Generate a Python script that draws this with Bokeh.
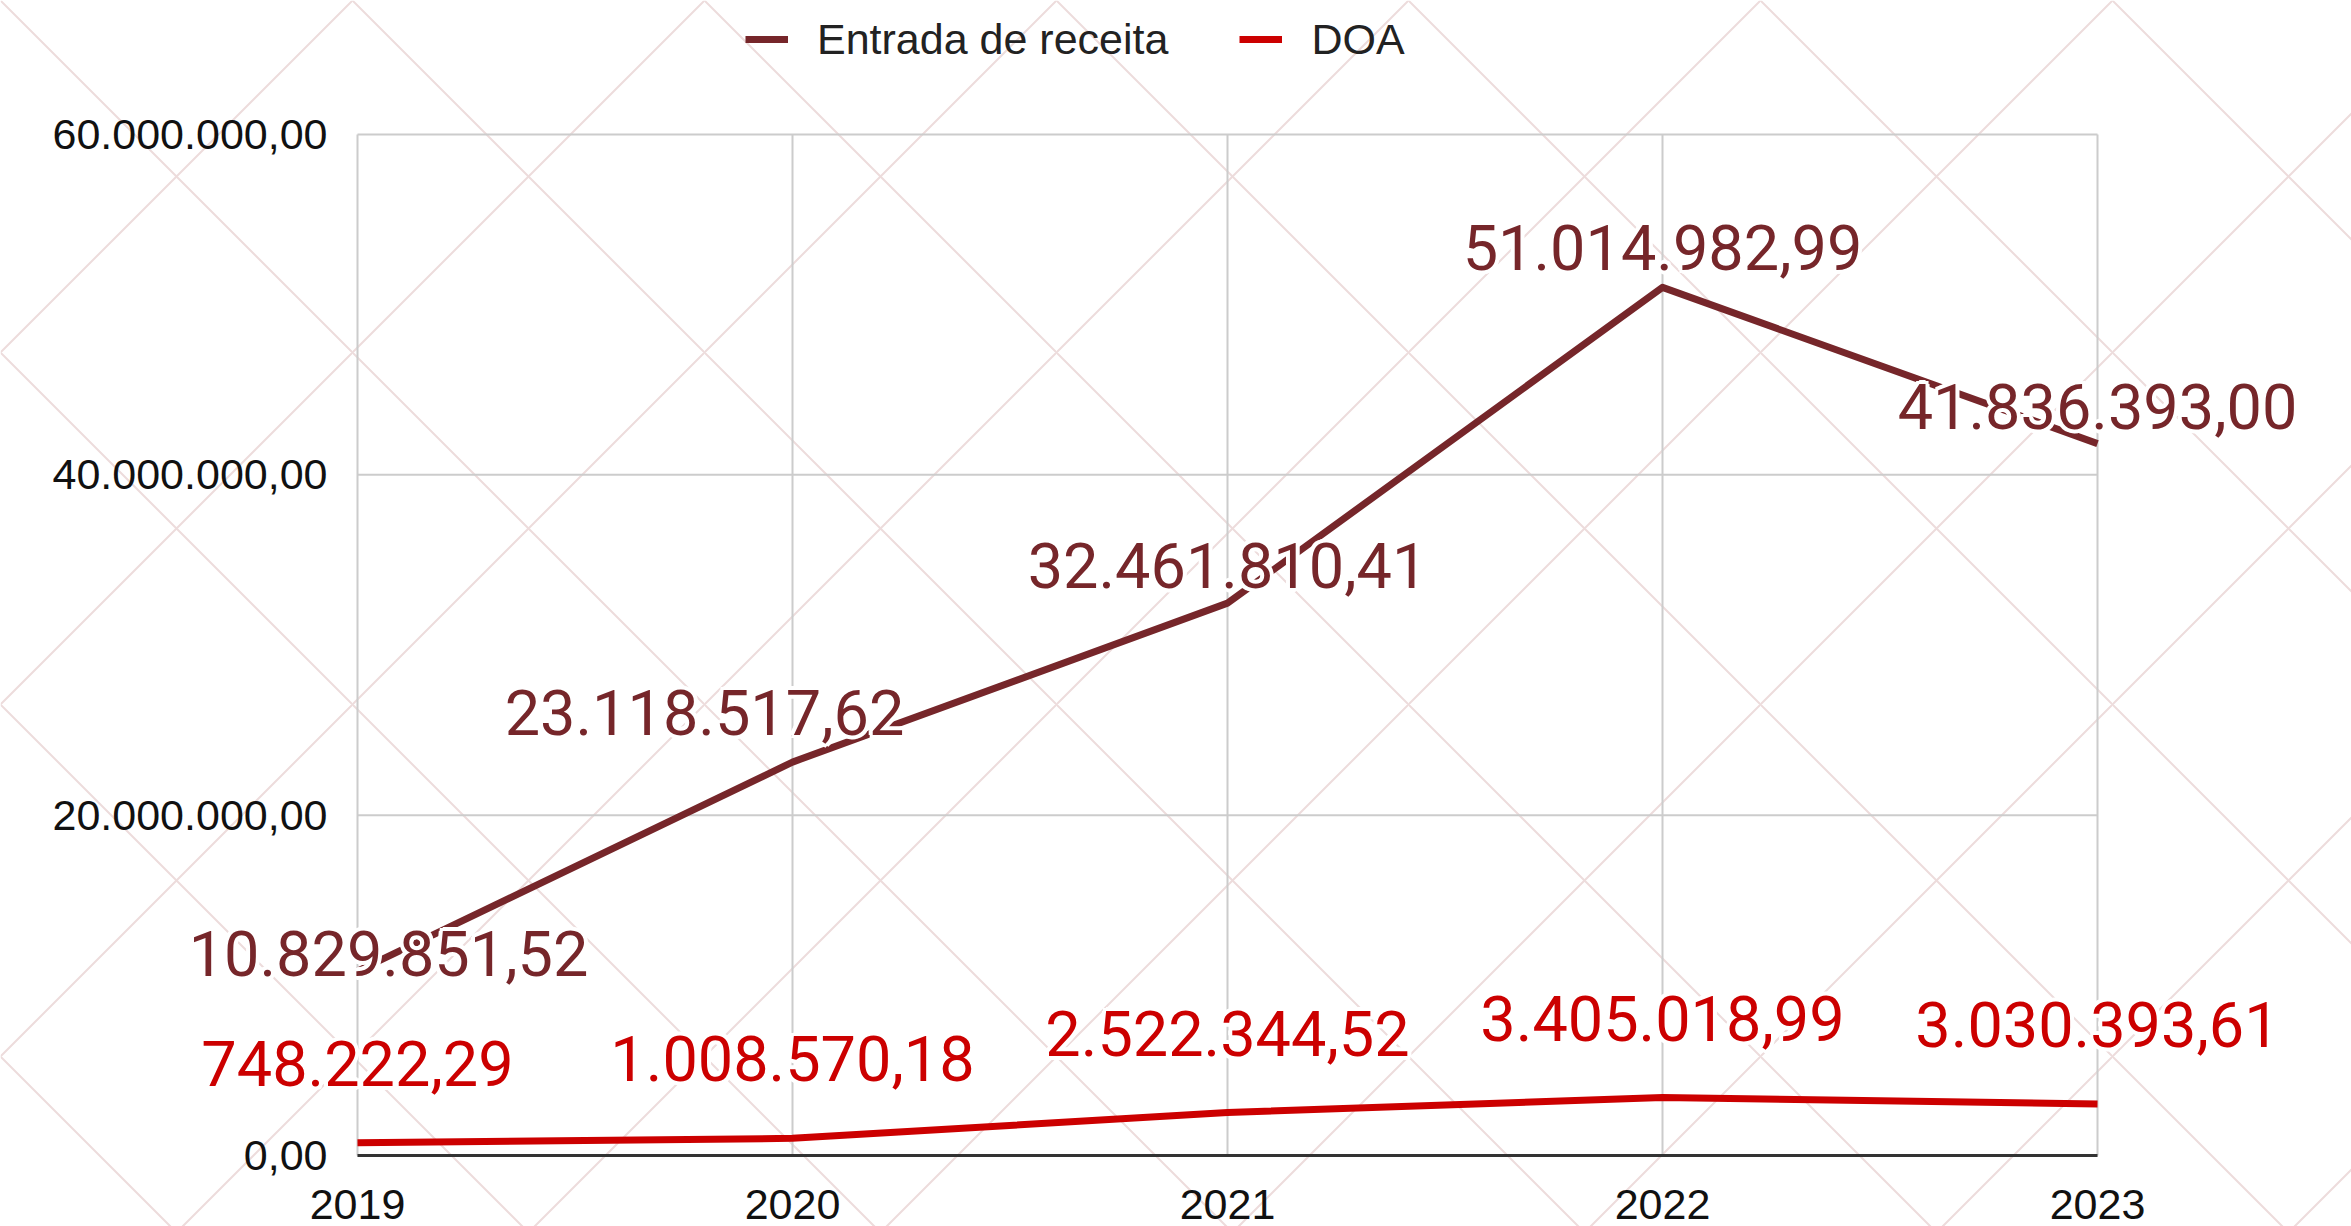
from bokeh.plotting import figure
from bokeh.models import (ColumnDataSource, Legend, LegendItem, Range1d,
                          LabelSet, BoxAnnotation)
from bokeh.core.properties import value
from bokeh.embed import file_html
from bokeh.resources import INLINE

# ---- data ----
years = ["2019", "2020", "2021", "2022", "2023"]
entrada = [10829851.52, 23118517.62, 32461810.41, 51014982.99, 41836393.00]
doa = [748222.29, 1008570.18, 2522344.52, 3405018.99, 3030393.61]
entrada_labels = ["10.829.851,52", "23.118.517,62", "32.461.810,41", "51.014.982,99", "41.836.393,00"]
doa_labels = ["748.222,29", "1.008.570,18", "2.522.344,52", "3.405.018,99", "3.030.393,61"]
y_ticks = [0, 20000000, 40000000, 60000000]
y_tick_labels = ["0,00", "20.000.000,00", "40.000.000,00", "60.000.000,00"]
series_names = ["Entrada de receita", "DOA"]

# label placement (screen pixels, positive = right / up)
entrada_dx = [31, -88, 0, 0, 0]
entrada_dy = [-5, 27, 15, 17, 15]
doa_dx = [0, 0, 0, 0, 0]
doa_dy = [57, 57, 57, 57, 57]

C_ENTRADA = "#76262a"
C_DOA = "#cc0000"

# ---- layout (pixels) ----
W, H = 2351, 1226
PLOT_L, PLOT_R, PLOT_T, PLOT_B = 357, 2097, 134, 1155
n = len(years)
xs = list(range(n))
y_max = y_ticks[-1]
px_x = (PLOT_R - PLOT_L) / (n - 1)
px_y = (PLOT_B - PLOT_T) / y_max
x_start = -PLOT_L / px_x
x_end = (n - 1) + (W - PLOT_R) / px_x
y_end = y_max + PLOT_T / px_y
y_start = -(H - PLOT_B) / px_y

p = figure(frame_width=W, frame_height=H, min_border=0,
           x_range=Range1d(x_start, x_end), y_range=Range1d(y_start, y_end),
           output_backend="svg", toolbar_location=None)
p.outline_line_color = None
p.background_fill_color = "white"
p.border_fill_color = "white"
p.grid.visible = False
p.axis.visible = False

# faint background lattice
p.add_layout(BoxAnnotation(fill_color=None, line_color=None,
                           hatch_pattern="diagonal_cross", hatch_scale=352,
                           hatch_color="#eddcdc", hatch_weight=2, level="underlay"))

# grid (limited to the plot area) and x axis line
p.segment(x0=xs, y0=[0] * n, x1=xs, y1=[y_max] * n, line_color="#cccccc", line_width=2)
p.segment(x0=[xs[0]] * len(y_ticks), y0=y_ticks, x1=[xs[-1]] * len(y_ticks), y1=y_ticks,
          line_color="#cccccc", line_width=2)
p.segment(x0=[xs[0]], y0=[0], x1=[xs[-1]], y1=[0], line_color="#333333", line_width=3)

# tick labels
tick_font = dict(text_font=value("Liberation Sans"), text_font_size="43px", text_color="#111111")
ysrc = ColumnDataSource(dict(x=[xs[0]] * len(y_ticks), y=y_ticks, t=y_tick_labels))
p.add_layout(LabelSet(x="x", y="y", text="t", source=ysrc, x_offset=-30,
                      text_align="right", text_baseline="middle", **tick_font))
xsrc = ColumnDataSource(dict(x=xs, y=[0] * n, t=years))
p.add_layout(LabelSet(x="x", y="y", text="t", source=xsrc, y_offset=-63,
                      text_align="center", text_baseline="alphabetic", **tick_font))

# series
src = ColumnDataSource(dict(x=xs, entrada=entrada, doa=doa,
                            elab=entrada_labels, dlab=doa_labels,
                            edx=entrada_dx, edy=entrada_dy, ddx=doa_dx, ddy=doa_dy))
r1 = p.line("x", "entrada", source=src, line_color=C_ENTRADA, line_width=7, line_join="round")
r2 = p.line("x", "doa", source=src, line_color=C_DOA, line_width=7, line_join="round")

# value labels with white halo
label_font = dict(text_font=value("Roboto"), text_font_size="63px",
                  text_align="center", text_baseline="alphabetic")
HALO = 4
dirs = [(HALO, 0), (-HALO, 0), (0, HALO), (0, -HALO),
        (3, 3), (-3, 3), (3, -3), (-3, -3)]
for k, (hx, hy) in enumerate(dirs):
    src.data[f"edx{k}"] = [d + hx for d in entrada_dx]
    src.data[f"edy{k}"] = [d + hy for d in entrada_dy]
    src.data[f"ddx{k}"] = [d + hx for d in doa_dx]
    src.data[f"ddy{k}"] = [d + hy for d in doa_dy]
    p.add_layout(LabelSet(x="x", y="entrada", text="elab", source=src,
                          x_offset=f"edx{k}", y_offset=f"edy{k}",
                          text_color="white", **label_font))
    p.add_layout(LabelSet(x="x", y="doa", text="dlab", source=src,
                          x_offset=f"ddx{k}", y_offset=f"ddy{k}",
                          text_color="white", **label_font))

p.add_layout(LabelSet(x="x", y="entrada", text="elab", source=src, x_offset="edx", y_offset="edy",
                      text_color=C_ENTRADA, **label_font))
p.add_layout(LabelSet(x="x", y="doa", text="dlab", source=src, x_offset="ddx", y_offset="ddy",
                      text_color=C_DOA, **label_font))

legend = Legend(items=[LegendItem(label=series_names[0], renderers=[r1]),
                       LegendItem(label=series_names[1], renderers=[r2])],
                orientation="horizontal", location=(745, H - 134 + 70),
                padding=0, margin=0, spacing=71, label_standoff=29,
                glyph_width=43, glyph_height=50,
                label_text_font="Liberation Sans", label_text_font_size="43px",
                label_text_color="#222222", border_line_color=None,
                background_fill_alpha=0)
p.add_layout(legend, "center")

open("out.html", "w").write(file_html(p, INLINE))
